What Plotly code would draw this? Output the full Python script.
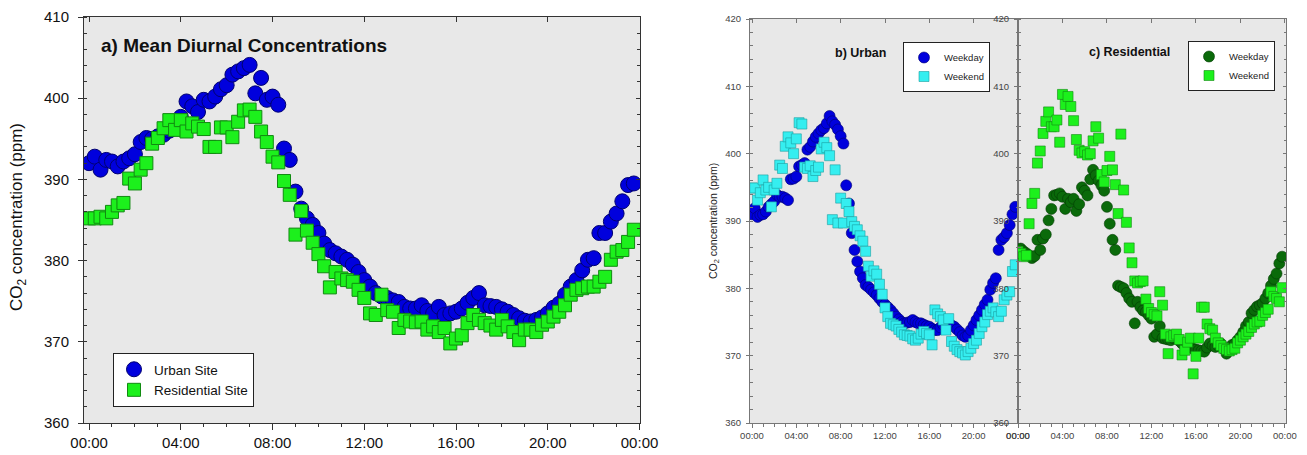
import plotly.graph_objects as go

# ---------------- data (15-minute means, hours of day) ----------------
hours = [i * 0.25 for i in range(96)]
tick_hours = [0, 4, 8, 12, 16, 20, 24]
tick_labels = ["00:00", "04:00", "08:00", "12:00", "16:00", "20:00", "00:00"]

urban_site = [
    392.0, 392.8, 391.2, 392.4, 392.2, 391.6, 392.2, 392.6, 393.1, 394.6, 395.1, 395.0,
    395.3, 395.5, 396.0, 396.8, 397.7, 399.6, 399.0, 398.3, 399.8, 399.6, 400.2, 401.1,
    401.6, 402.9, 403.3, 403.7, 404.1, 400.6, 402.5, 399.8, 400.2, 399.2, 393.8, 392.4,
    388.5, 386.4, 385.2, 384.4, 383.4, 382.1, 381.3, 380.9, 380.5, 380.1, 379.5, 378.6,
    377.6, 376.8, 376.0, 375.6, 375.4, 375.1, 374.9, 374.3, 374.1, 374.1, 374.5, 373.8,
    373.5, 374.3, 373.3, 373.5, 373.7, 374.1, 374.8, 375.4, 376.0, 374.5, 374.4, 374.3,
    374.0, 373.7, 373.3, 372.9, 372.6, 372.5, 372.7, 373.0, 373.5, 374.2, 374.7, 375.8,
    376.8, 377.6, 378.8, 380.1, 380.3, 383.4, 383.4, 384.8, 385.8, 387.3, 389.3, 389.5,
]
residential_site = [
    385.2, 385.2, 385.4, 385.2, 386.0, 386.8, 387.1, 390.1, 389.5, 391.2, 392.0, 394.4,
    395.1, 396.3, 397.3, 396.1, 397.3, 395.9, 396.9, 396.5, 396.2, 394.0, 394.0, 396.4,
    396.4, 395.2, 397.1, 398.5, 398.6, 397.7, 395.9, 394.6, 392.8, 392.1, 389.8, 388.1,
    383.2, 386.1, 383.7, 382.2, 380.8, 379.3, 376.7, 378.6, 377.8, 377.6, 377.4, 376.4,
    375.4, 373.5, 373.3, 375.8, 373.9, 373.7, 371.7, 372.7, 372.5, 372.4, 372.5, 371.5,
    371.9, 371.2, 371.7, 369.8, 370.4, 370.8, 372.3, 373.3, 372.7, 372.3, 372.0, 371.5,
    372.7, 371.9, 371.2, 370.2, 371.5, 371.5, 371.2, 372.1, 372.5, 373.1, 373.7, 374.5,
    375.8, 376.4, 376.6, 376.8, 376.8, 377.4, 378.0, 380.1, 381.1, 381.3, 382.3, 383.8,
]
urban_weekday = [
    391.0, 391.9, 390.6, 390.9, 391.0, 391.4, 392.1, 392.5, 392.9, 393.9, 393.6, 393.6,
    393.4, 393.1, 396.2, 396.3, 396.6, 398.1, 398.3, 398.6, 400.6, 401.0, 401.8, 402.5,
    403.0, 403.5, 403.8, 404.5, 405.6, 404.8, 404.3, 403.6, 402.6, 401.5, 395.3, 392.6,
    388.2, 385.7, 384.0, 382.5, 381.5, 380.5, 380.2, 379.8, 379.4, 379.0, 378.5, 378.0,
    377.6, 377.2, 376.8, 376.3, 375.8, 375.4, 375.0, 374.8, 374.9, 375.0, 375.3, 375.0,
    374.8, 374.8, 374.6, 374.4, 374.3, 374.0, 373.8, 373.8, 374.2, 374.6, 374.8, 374.6,
    374.5, 374.3, 373.9, 373.5, 373.0, 372.8, 373.0, 373.8, 374.5, 375.3, 376.0, 376.8,
    377.6, 378.3, 379.8, 380.8, 381.5, 385.7, 387.2, 387.6, 388.2, 389.4, 391.0, 392.1,
]
urban_weekend = [
    394.9, 394.9, 393.1, 394.2, 396.1, 394.6, 395.0, 392.1, 394.6, 395.6, 398.3, 397.8,
    401.1, 402.5, 401.6, 400.0, 402.2, 404.6, 404.4, 398.0, 397.8, 398.2, 396.6, 397.5,
    398.0, 400.7, 401.7, 400.9, 399.7, 390.2, 397.6, 389.7, 393.4, 389.7, 392.6, 391.4,
    389.9, 389.2, 388.7, 387.8, 387.0, 385.5, 383.3, 381.8, 382.6, 382.1, 380.6, 379.1,
    377.1, 375.8, 374.8, 374.6, 374.4, 373.9, 373.5, 373.1, 373.0, 372.9, 372.5, 372.3,
    372.6, 373.2, 373.6, 373.3, 373.1, 371.6, 376.8, 376.2, 375.8, 375.3, 373.8, 375.5,
    372.1, 371.4, 370.9, 370.6, 370.4, 370.1, 370.6, 371.1, 371.8, 372.3, 373.3, 374.3,
    375.0, 376.1, 376.6, 377.1, 376.5, 375.8, 376.6, 378.3, 379.0, 379.5, 382.5, 383.5,
]
resid_weekday = [
    385.2, 385.9, 385.5, 385.2, 384.9, 384.5, 384.8, 387.2, 385.7, 387.4, 388.0, 390.1,
    391.8, 393.8, 393.9, 394.1, 393.6, 391.8, 393.3, 392.8, 393.3, 391.5, 392.5, 395.0,
    394.5, 393.8, 396.2, 397.6, 396.8, 396.0, 395.3, 394.5, 392.1, 389.6, 387.2, 385.7,
    380.4, 380.2, 380.0, 379.3, 378.5, 378.0, 374.8, 378.0, 377.2, 376.7, 376.5, 376.0,
    375.5, 372.8, 373.2, 374.4, 372.6, 372.5, 372.4, 372.3, 372.6, 372.6, 372.2, 371.8,
    371.6, 371.5, 371.3, 371.0, 370.9, 370.8, 370.7, 370.6, 371.2, 371.8, 371.5, 371.3,
    371.5, 371.8, 371.0, 370.3, 371.0, 371.6, 371.8, 372.3, 372.8, 373.5, 374.4, 375.0,
    376.3, 376.8, 377.3, 377.5, 377.8, 378.5, 379.3, 380.4, 381.4, 382.2, 383.7, 384.7,
]
resid_weekend = [
    385.5, 385.2, 384.7, 384.9, 389.6, 392.6, 394.1, 398.6, 400.4, 403.0, 404.8, 406.2,
    404.0, 404.0, 405.0, 401.7, 408.8, 407.3, 408.5, 407.0, 404.9, 402.1, 400.5, 400.1,
    400.3, 399.8, 400.0, 401.9, 404.0, 402.3, 396.9, 395.8, 397.5, 399.6, 397.6, 395.4,
    391.1, 402.9, 394.6, 389.8, 386.0, 383.8, 381.1, 380.8, 381.0, 381.1, 378.4, 377.0,
    376.4, 376.1, 375.9, 379.5, 377.5, 373.2, 370.3, 372.8, 373.0, 373.2, 372.4, 370.1,
    370.8, 372.0, 372.6, 367.3, 369.9, 372.6, 377.2, 377.2, 374.7, 374.0, 373.8, 372.6,
    371.9, 371.5, 371.1, 370.9, 370.7, 370.9, 371.1, 371.9, 372.3, 372.8, 373.2, 373.6,
    374.2, 374.7, 375.0, 375.1, 376.0, 376.4, 376.9, 379.5, 378.8, 378.5, 378.0, 380.1,
]

# ---------------- figure ----------------
# the page body has an 8px default margin, so the figure is placed 8px in
# from the window's top-left corner; layout positions below are given in
# window pixels and converted to figure (paper) fractions.
OFF = 8
W, H = 1307 - OFF, 455 - OFF
FONT = "Arial, Liberation Sans, sans-serif"


def fx(px):
    return (px - OFF) / W


def fy(py):
    return 1 - (py - OFF) / H


fig = go.Figure()

BLUE, BLUE_L = "#0000dd", "#000070"
LIME, LIME_L = "#1cf01c", "#118a11"
CYAN, CYAN_L = "#35eef0", "#1a9ea0"
DKGREEN, DKGREEN_L = "#0a6a0a", "#033c03"

# panel a
fig.add_trace(go.Scatter(x=hours, y=urban_site, mode="markers", name="Urban Site",
                         marker=dict(symbol="circle", size=15, color=BLUE, line=dict(color=BLUE_L, width=1)),
                         xaxis="x", yaxis="y", legend="legend"))
fig.add_trace(go.Scatter(x=hours, y=residential_site, mode="markers", name="Residential Site",
                         marker=dict(symbol="square", size=13, color=LIME, line=dict(color=LIME_L, width=1)),
                         xaxis="x", yaxis="y", legend="legend"))
# panel b
fig.add_trace(go.Scatter(x=hours, y=urban_weekday, mode="markers", name="Weekday",
                         marker=dict(symbol="circle", size=11, color=BLUE, line=dict(color=BLUE_L, width=0.6)),
                         xaxis="x2", yaxis="y2", legend="legend2"))
fig.add_trace(go.Scatter(x=hours, y=urban_weekend, mode="markers", name="Weekend",
                         marker=dict(symbol="square", size=10, color=CYAN, line=dict(color=CYAN_L, width=0.6)),
                         xaxis="x2", yaxis="y2", legend="legend2"))
# panel c
fig.add_trace(go.Scatter(x=hours, y=resid_weekday, mode="markers", name="Weekday",
                         marker=dict(symbol="circle", size=11, color=DKGREEN, line=dict(color=DKGREEN_L, width=0.6)),
                         xaxis="x3", yaxis="y3", legend="legend3"))
fig.add_trace(go.Scatter(x=hours, y=resid_weekend, mode="markers", name="Weekend",
                         marker=dict(symbol="square", size=10, color=LIME, line=dict(color=LIME_L, width=0.6)),
                         xaxis="x3", yaxis="y3", legend="legend3"))

# dummy traces to carry the mirrored (top/right) tick axes
for xa, ya in (("x4", "y4"), ("x5", "y5"), ("x6", "y6")):
    fig.add_trace(go.Scatter(x=[None], y=[None], xaxis=xa, yaxis=ya, showlegend=False, hoverinfo="skip"))

panels = [
    # (suffix, overlay suffix, x px (left,right), y px (top,bottom), xrange, yrange, big?)
    ("", "4", (84, 640), (17, 423), [-0.22, 24.02], [360, 410], True),
    ("2", "5", (750, 1018), (19, 423), [-0.18, 24.0], [360, 420], False),
    ("3", "6", (1018, 1286), (19, 423), [0.0, 24.1], [360, 420], False),
]

layout = dict(
    width=W, height=H,
    margin=dict(l=0, r=0, t=0, b=0, autoexpand=False),
    paper_bgcolor="white",
    plot_bgcolor="#e8e8e8",
    font=dict(family=FONT, color="#111"),
    showlegend=True,
)

for sfx, osfx, xd, yd, xr, yr, big in panels:
    lc = "#333333" if big else "#777777"
    tfont = dict(family=FONT, size=15 if big else 9.5, color="#111" if big else "#444")
    xid = "x" + sfx if sfx else "x"
    yid = "y" + sfx if sfx else "y"
    xdom = [fx(xd[0]), fx(xd[1])]
    ydom = [fy(yd[1]), fy(yd[0])]
    layout["xaxis" + sfx] = dict(
        domain=xdom, range=xr, anchor=yid, automargin=False,
        tickmode="array", tickvals=tick_hours, ticktext=tick_labels,
        ticks="outside", ticklen=6 if big else 4, tickcolor=lc, tickwidth=1,
        minor=dict(tickmode="linear", tick0=0, dtick=1, ticks="outside",
                   ticklen=3 if big else 2.5, tickcolor=lc),
        showline=True, linecolor=lc, linewidth=1, mirror=True,
        showgrid=False, zeroline=False, tickfont=tfont, fixedrange=True,
    )
    layout["yaxis" + sfx] = dict(
        domain=ydom, range=yr, anchor=xid, automargin=False,
        tickmode="linear", tick0=360, dtick=10,
        ticks="outside", ticklen=5 if big else 3, tickcolor=lc, tickwidth=1,
        minor=dict(tickmode="linear", tick0=360, dtick=2, ticks="inside",
                   ticklen=3 if big else 2.5, tickcolor=lc),
        showline=True, linecolor=lc, linewidth=1, mirror=True,
        showgrid=False, zeroline=False, tickfont=tfont, fixedrange=True,
        ticklabelstandoff=6 if big else 3,
    )
    layout["xaxis" + osfx] = dict(
        overlaying=xid, side="top", anchor=yid, range=xr, automargin=False,
        tickmode="array", tickvals=tick_hours, showticklabels=False,
        ticks="inside", ticklen=5 if big else 4, tickcolor=lc,
        showline=False, showgrid=False, zeroline=False, fixedrange=True,
    )
    layout["yaxis" + osfx] = dict(
        overlaying=yid, side="right", anchor=xid, range=yr, automargin=False,
        tickmode="linear", tick0=360, dtick=10, showticklabels=False,
        ticks="inside", ticklen=4 if big else 3, tickcolor=lc,
        minor=dict(tickmode="linear", tick0=360, dtick=2, ticks="inside",
                   ticklen=3 if big else 2.5, tickcolor=lc),
        showline=False, showgrid=False, zeroline=False, fixedrange=True,
    )

legend_common = dict(
    bgcolor="white", bordercolor="#222", borderwidth=1,
    xanchor="left", yanchor="top", xref="paper", yref="paper",
    itemclick=False, itemdoubleclick=False, tracegroupgap=0, itemsizing="trace",
)
layout["legend"] = dict(legend_common, x=fx(113), y=fy(353),
                        font=dict(family=FONT, size=13.5, color="#111"))
layout["legend2"] = dict(legend_common, x=fx(903), y=fy(42), itemwidth=30,
                         font=dict(family=FONT, size=9.5, color="#222"))
layout["legend3"] = dict(legend_common, x=fx(1188), y=fy(41), itemwidth=30,
                         font=dict(family=FONT, size=9.5, color="#222"))

annotations = [
    dict(text="<b>a) Mean Diurnal Concentrations</b>", x=fx(99), y=fy(45),
         xanchor="left", yanchor="middle", font=dict(family=FONT, size=19, color="#111")),
    dict(text="<b>b) Urban</b>", x=fx(833), y=fy(53),
         xanchor="left", yanchor="middle", font=dict(family=FONT, size=12.5, color="#111")),
    dict(text="<b>c) Residential</b>", x=fx(1087), y=fy(52),
         xanchor="left", yanchor="middle", font=dict(family=FONT, size=12.5, color="#111")),
    dict(text="CO<sub>2</sub> concentration (ppm)", x=fx(18), y=fy(217), textangle=-90,
         xanchor="center", yanchor="middle", font=dict(family=FONT, size=17, color="#111")),
    dict(text="CO<sub>2</sub> concentration (ppm)", x=fx(714), y=fy(221), textangle=-90,
         xanchor="center", yanchor="middle", font=dict(family=FONT, size=10.5, color="#222")),
]
for a in annotations:
    a.update(xref="paper", yref="paper", showarrow=False)
layout["annotations"] = annotations

fig.update_layout(**layout)
fig.write_html("out.html", config={"displayModeBar": False})
